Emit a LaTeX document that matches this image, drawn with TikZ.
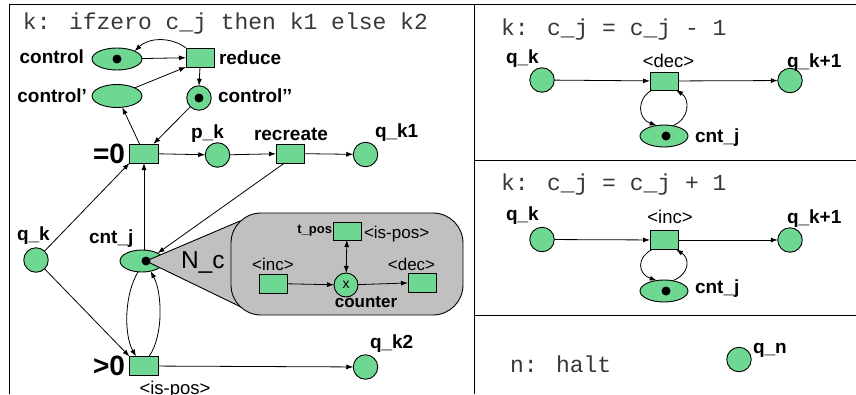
\documentclass[tikz,border=0pt]{standalone}
\usepackage{fontspec}
\setmainfont{Liberation Sans}
\newfontfamily\codefont{Liberation Mono}
\usetikzlibrary{arrows.meta,shapes.geometric}
\definecolor{placegreen}{RGB}{110,216,146}
\definecolor{boxgray}{RGB}{192,192,192}
\tikzset{
  every node/.style={inner sep=0pt,outer sep=0pt},
  place/.style={circle,draw,fill=placegreen,line width=0.9pt,minimum size=24.5pt},
  oval/.style={ellipse,draw,fill=placegreen,line width=0.9pt,minimum width=50pt,minimum height=22pt},
  trans/.style={rectangle,draw,fill=placegreen,line width=0.9pt,minimum width=28pt,minimum height=19pt},
  token/.style={circle,fill=black,minimum size=9pt},
  plab/.style={font=\fontsize{19}{22}\selectfont\bfseries},
  tlab/.style={font=\fontsize{18.5}{22}\selectfont},
  slab/.style={font=\fontsize{17}{20}\selectfont},
  big/.style={font=\fontsize{28}{30}\selectfont\bfseries},
  code/.style={font=\codefont\fontsize{23}{26}\selectfont,text=black!78},
  flow/.style={line width=0.8pt,-{Latex[length=7pt,width=5pt]}},
  both flow/.style={line width=0.8pt,{Latex[length=7pt,width=5pt]}-{Latex[length=7pt,width=5pt]}},
  rule/.style={line width=1pt},
}
\begin{document}
\begin{tikzpicture}[x=1pt,y=-1pt]
\useasboundingbox (0,0) rectangle (856,394);

% panel rules
\draw[rule] (9,394) -- (9,4.5) -- (856,4.5);
\draw[rule] (474.5,4.5) -- (474.5,394);
\draw[rule] (474.5,160) -- (856,160);
\draw[rule] (474.5,315) -- (856,315);

% ---------------- ifzero ----------------
\node[code,anchor=base west] (t1) at (23,29) {k: ifzero c\_j then k1 else k2};

\node[oval] (control) at (117,59) {};
\node[token] (controltok) at (control) {};
\node[trans] (reduce) at (200,57.5) {};
\node[oval,minimum height=23pt] (controlp) at (117,96) {};
\node[place] (controlpp) at (199,98) {};
\node[token] (controlpptok) at (controlpp) {};
\node[trans,minimum width=29pt] (eq0) at (144,153.5) {};
\node[place] (pk) at (217.5,155) {};
\node[trans] (recreate) at (290,153.5) {};
\node[place] (qk1) at (365.5,154.5) {};
\node[place] (qk) at (36,260) {};
\node[oval,minimum width=44pt] (cntj) at (142,261) {};
\node[trans,minimum width=29pt] (gt0) at (144,366) {};
\node[place] (qk2) at (365.5,367) {};

\node[plab,anchor=base east] at (84,63.5) {control};
\node[plab,anchor=base west] at (219,64) {reduce};
\node[plab,anchor=base east] at (87,102) {control’};
\node[plab,anchor=base west] at (218,102.5) {control’’};
\node[big,anchor=base east] at (125,163) {=0};
\node[plab,anchor=base] at (207.5,138) {p\_k};
\node[plab,anchor=base] at (291,140) {recreate};
\node[plab,anchor=base west] at (375,137) {q\_k1};
\node[plab,anchor=base west] at (17,240) {q\_k};
\node[plab,anchor=base west] at (89,243) {cnt\_j};
\node[big,anchor=base east] at (125,375) {>0};
\node[tlab,anchor=base] at (175,394) {<is-pos>};
\node[plab,anchor=base west] at (370,348) {q\_k2};

\draw[flow] (control) -- (reduce);
\draw[flow] (reduce.north west) .. controls (170,36) and (148,38) .. (control.north east);
\draw[flow] (controlp.north east) -- (reduce.south west);
\draw[flow] (reduce.south) -- (controlpp.north);
\draw[flow] (controlpp) -- (eq0);
\draw[flow] (eq0) -- (controlp);
\draw[flow] (eq0) -- (pk);
\draw[flow] (pk) -- (recreate);
\draw[flow] (recreate) -- (qk1);
\draw[flow] (qk) -- (eq0.south west);
\draw[flow] (cntj.north -| eq0.south) -- (eq0.south);
\draw[flow] (recreate.240) -- (cntj.north east);
\draw[flow] (qk) -- (gt0.north west);
\draw[flow] (cntj.250) .. controls (124,295) and (124,335) .. ([xshift=-8pt]gt0.north);
\draw[flow] ([xshift=5pt]gt0.north) .. controls (164,335) and (162,292) .. (cntj.310);
\draw[flow] (gt0) -- (qk2);

% counter net N_c, zoomed out of cnt_j
\coordinate (apex) at (146,261);
\draw[line width=0.9pt,fill=boxgray] (apex) -- (240,221) -- (241,307) -- cycle;
\node[token] (cntjtok) at (apex) {};
\node[draw,fill=boxgray,line width=0.9pt,rounded corners=30pt,minimum width=232pt,minimum height=102pt] (nc) at (347,264) {};
\node[font=\fontsize{24.5}{26}\selectfont,anchor=base west] at (181,268.5) {N\_c};

\node[trans,minimum height=18pt] (tpos) at (347,231) {};
\node[place,minimum size=24pt,font=\fontsize{14}{14}\selectfont] (ctr) at (346,285) {x};
\node[trans] (cinc) at (273,283.5) {};
\node[trans] (cdec) at (422,282.5) {};
\node[font=\fontsize{13}{14}\selectfont\bfseries,anchor=base east] at (332,233) {t\_pos};
\node[slab,anchor=base west] at (364,238) {<is-pos>};
\node[slab,anchor=base] at (273,270) {<inc>};
\node[slab,anchor=base] at (411.5,270) {<dec>};
\node[font=\fontsize{17}{20}\selectfont\bfseries,anchor=base] at (366,307.5) {counter};

\draw[both flow] (tpos) -- (ctr);
\draw[flow] (cinc) -- (ctr);
\draw[flow] (ctr) -- (cdec);

% ---------------- decrement ----------------
\node[code,anchor=base west] (t2) at (501,35) {k: c\_j = c\_j - 1};
\node[place] (dqk) at (542,80) {};
\node[trans,minimum height=18pt] (dec) at (664,81) {};
\node[place] (dqk1) at (790,80.5) {};
\node[oval,minimum width=48pt] (dcnt) at (664,136) {};
\node[token] (dcnttok) at ([xshift=2pt]dcnt.center) {};
\node[plab,anchor=base west] at (506,63) {q\_k};
\node[tlab,anchor=base] at (668.5,67) {<dec>};
\node[plab,anchor=base west] at (787,67) {q\_k+1};
\node[plab,anchor=base west] at (695,142) {cnt\_j};
\draw[flow] (dqk) -- (dec);
\draw[flow] (dec) -- (dqk1);
\draw[flow] ([xshift=2pt]dec.south west) .. controls (636,99) and (638,119) .. (dcnt.125);
\draw[flow] (dcnt.50) .. controls (690,119) and (690,99) .. ([xshift=-2pt]dec.south east);

% ---------------- increment ----------------
\node[code,anchor=base west] (t3) at (501,190) {k: c\_j = c\_j + 1};
\node[place] (iqk) at (542,239.5) {};
\node[trans] (inc) at (664,240) {};
\node[place] (iqk1) at (790,240) {};
\node[oval,minimum width=48pt] (icnt) at (664,291) {};
\node[token] (icnttok) at ([xshift=2pt]icnt.center) {};
\node[plab,anchor=base west] at (506,220) {q\_k};
\node[tlab,anchor=base] at (670,223) {<inc>};
\node[plab,anchor=base west] at (787,223) {q\_k+1};
\node[plab,anchor=base west] at (695,293) {cnt\_j};
\draw[flow] (iqk) -- (inc);
\draw[flow] (inc) -- (iqk1);
\draw[flow] ([xshift=2pt]inc.south west) .. controls (636,258) and (638,274) .. (icnt.125);
\draw[flow] (icnt.50) .. controls (690,274) and (690,258) .. ([xshift=-2pt]inc.south east);

% ---------------- halt ----------------
\node[code,anchor=base west] (t4) at (510,372) {n: halt};
\node[place] (qn) at (739,359.5) {};
\node[plab,anchor=base west] at (753,353) {q\_n};
\end{tikzpicture}
\end{document}
